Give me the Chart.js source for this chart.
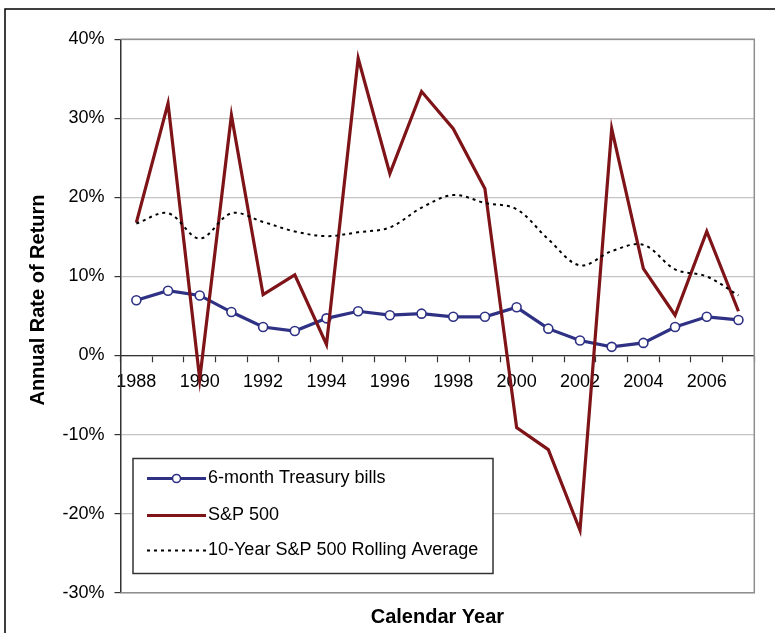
<!DOCTYPE html>
<html>
<head>
<meta charset="utf-8">
<script src="https://cdn.jsdelivr.net/npm/chart.js@4.4.1/dist/chart.umd.min.js"></script>
<style>html,body{margin:0;padding:0;background:#fff;}canvas{display:block;}</style>
</head>
<body>
<canvas id="c" width="775" height="633"></canvas>
<script>
// ---- data ----
const years = ['1988','1989','1990','1991','1992','1993','1994','1995','1996','1997',
               '1998','1999','2000','2001','2002','2003','2004','2005','2006','2007'];
const tbills = [7.0, 8.2, 7.6, 5.5, 3.6, 3.1, 4.7, 5.6, 5.1, 5.3,
                4.9, 4.9, 6.1, 3.4, 1.9, 1.1, 1.6, 3.6, 4.9, 4.5];
const sp500 = [16.8, 31.9, -3.0, 30.4, 7.7, 10.2, 1.4, 37.6, 23.0, 33.4,
               28.7, 21.1, -9.1, -11.9, -22.1, 28.7, 11.0, 5.1, 15.7, 5.6];
const rolling = [16.7, 18.0, 14.8, 18.0, 16.9, 15.7, 15.1, 15.6, 16.2, 18.7,
                 20.3, 19.3, 18.5, 14.7, 11.4, 13.2, 14.0, 10.9, 10.0, 7.6];
const seriesNames = ['6-month Treasury bills', 'S&P 500', '10-Year S&P 500 Rolling Average'];
const yMin = -30, yMax = 40, yStep = 10;
const xTitle = 'Calendar Year';
const yTitle = 'Annual Rate of Return';

const FONT = '"Liberation Sans", Arial, sans-serif';
const BLUE = '#2e3184';
const RED = '#7e1418';

const decor = {
  id: 'decor',
  beforeDatasetsDraw(chart) {
    const {ctx, chartArea: a} = chart;
    ctx.save();
    ctx.strokeStyle = '#8f8f8f';
    ctx.lineWidth = 1.5;
    ctx.beginPath();
    ctx.moveTo(a.left, a.top);
    ctx.lineTo(a.right, a.top);
    ctx.lineTo(a.right, a.bottom);
    ctx.lineTo(a.left, a.bottom);
    ctx.stroke();
    ctx.restore();
  },
  afterDraw(chart) {
    const {ctx, chartArea: a} = chart;
    ctx.save();
    // outer frame (top and left edges)
    ctx.strokeStyle = '#000';
    ctx.lineWidth = 1.5;
    ctx.beginPath();
    ctx.moveTo(5, 633);
    ctx.lineTo(5, 9);
    ctx.lineTo(775, 9);
    ctx.stroke();

    // axis titles
    ctx.fillStyle = '#000';
    ctx.font = 'bold 20px ' + FONT;
    ctx.textAlign = 'center';
    ctx.textBaseline = 'middle';
    ctx.fillText(xTitle, (a.left + a.right) / 2, 617);
    ctx.save();
    ctx.translate(38.5, 300);
    ctx.rotate(-Math.PI / 2);
    ctx.fillText(yTitle, 0, 0);
    ctx.restore();

    // legend box
    const bx = 133, by = 458.5, bw = 360, bh = 115;
    ctx.fillStyle = '#fff';
    ctx.fillRect(bx, by, bw, bh);
    ctx.strokeStyle = '#333';
    ctx.lineWidth = 1.5;
    ctx.strokeRect(bx, by, bw, bh);
    const rows = [478.5, 515.5, 550.5];
    ctx.font = '18px ' + FONT;
    ctx.textAlign = 'left';
    chart.data.datasets.forEach((ds, i) => {
      const y = rows[i];
      ctx.save();
      ctx.strokeStyle = ds.borderColor;
      ctx.lineWidth = ds.borderWidth;
      ctx.setLineDash(ds.borderDash || []);
      ctx.beginPath();
      ctx.moveTo(147, y);
      ctx.lineTo(206, y);
      ctx.stroke();
      ctx.setLineDash([]);
      if (ds.pointRadius > 0) {
        ctx.beginPath();
        ctx.arc(176.5, y, ds.pointRadius - 0.5, 0, Math.PI * 2);
        ctx.fillStyle = ds.pointBackgroundColor;
        ctx.fill();
        ctx.lineWidth = ds.pointBorderWidth;
        ctx.strokeStyle = ds.pointBorderColor;
        ctx.stroke();
      }
      ctx.restore();
      ctx.fillStyle = '#000';
      ctx.fillText(ds.label, 208, y);
    });
    ctx.restore();
  }
};

new Chart(document.getElementById('c'), {
  type: 'line',
  data: {
    labels: years,
    datasets: [
      {
        label: seriesNames[0], data: tbills, order: 2,
        borderColor: BLUE, borderWidth: 3.2,
        pointRadius: 4.5, pointHoverRadius: 4.5,
        pointBackgroundColor: '#fff', pointBorderColor: BLUE, pointBorderWidth: 1.6,
        tension: 0, fill: false
      },
      {
        label: seriesNames[1], data: sp500, order: 1,
        borderColor: RED, borderWidth: 3.2, pointRadius: 0,
        tension: 0, fill: false
      },
      {
        label: seriesNames[2], data: rolling, order: 0,
        borderColor: '#000', borderWidth: 2, borderDash: [3, 4],
        pointRadius: 0, tension: 0.35, fill: false
      }
    ]
  },
  options: {
    responsive: false,
    animation: false,
    devicePixelRatio: 1,
    layout: { padding: { top: 39.3, right: 20.7, left: 0, bottom: 40.3 } },
    plugins: { legend: { display: false }, tooltip: { enabled: false }, title: { display: false } },
    scales: {
      x: {
        type: 'category',
        position: { y: 0 },
        offset: true,
        grid: {
          offset: true, drawOnChartArea: false, drawTicks: true,
          tickLength: 6, tickColor: '#333', tickWidth: 1.2
        },
        border: { display: true, color: '#333', width: 1.3 },
        ticks: {
          autoSkip: false, maxRotation: 0, minRotation: 0, padding: 10,
          color: '#000', font: { family: FONT, size: 18 },
          callback: (v, i) => (i % 2 === 0 ? years[i] : '')
        }
      },
      y: {
        min: yMin, max: yMax,
        afterFit(s) { s.width = 120.5; },
        grid: {
          color: '#c4c4c4', lineWidth: 1.2, drawTicks: true,
          tickLength: 6, tickColor: '#333', tickWidth: 1.2
        },
        border: { display: true, color: '#333', width: 1.5 },
        ticks: {
          stepSize: yStep, padding: 10,
          color: '#000', font: { family: FONT, size: 18 },
          callback: v => v + '%'
        }
      }
    }
  },
  plugins: [decor]
});
</script>
</body>
</html>
